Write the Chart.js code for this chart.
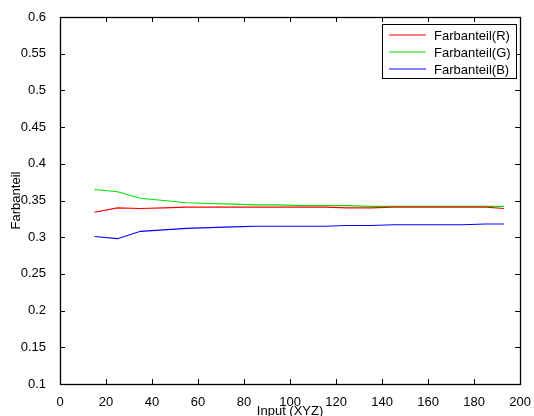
<!DOCTYPE html>
<html>
<head>
<meta charset="utf-8">
<script src="https://cdn.jsdelivr.net/npm/chart.js@4.4.1/dist/chart.umd.min.js"></script>
<style>
  html, body { margin: 0; padding: 0; background: #fff; }
  #wrap { width: 534px; height: 416px; }
</style>
</head>
<body>
<div id="wrap"><canvas id="chart" width="534" height="416"></canvas></div>
<script>
// --- DATEN ---
const inputXYZ = [15, 25, 35, 45, 55, 65, 75, 85, 95, 105, 115, 125, 135, 145, 155, 165, 175, 185, 193];
const anteilR = [0.334, 0.340, 0.339, 0.340, 0.341, 0.341, 0.341, 0.341, 0.341, 0.341, 0.341, 0.340, 0.340, 0.341, 0.341, 0.341, 0.341, 0.341, 0.339];
const anteilG = [0.365, 0.362, 0.353, 0.350, 0.347, 0.346, 0.345, 0.344, 0.344, 0.343, 0.343, 0.343, 0.342, 0.342, 0.342, 0.342, 0.342, 0.342, 0.342];
const anteilB = [0.301, 0.298, 0.308, 0.310, 0.312, 0.313, 0.314, 0.315, 0.315, 0.315, 0.315, 0.316, 0.316, 0.317, 0.317, 0.317, 0.317, 0.318, 0.318];

const seriesLabels = ['Farbanteil(R)', 'Farbanteil(G)', 'Farbanteil(B)'];
const xTicks = [0, 20, 40, 60, 80, 100, 120, 140, 160, 180, 200];
const yTicks = [0.1, 0.15, 0.2, 0.25, 0.3, 0.35, 0.4, 0.45, 0.5, 0.55, 0.6];

const FONT = 'Liberation Sans, Arial, Helvetica, sans-serif';
const colors = ['#ff0000', '#00e000', '#0000ff'];

function toPoints(ys) {
  return inputXYZ.map((x, i) => ({ x: x, y: ys[i] }));
}

// Rahmen + Ticks nach innen (Matlab-Stil) und Legende
const matlabBox = {
  id: 'matlabBox',
  afterDraw(chart) {
    const { ctx, chartArea: a, scales } = chart;
    const len = 5;
    ctx.save();
    ctx.strokeStyle = '#000';
    ctx.lineWidth = 1;
    ctx.beginPath();
    xTicks.forEach(v => {
      const px = Math.round(scales.x.getPixelForValue(v)) + 0.5;
      ctx.moveTo(px, a.bottom); ctx.lineTo(px, a.bottom - len);
      ctx.moveTo(px, a.top); ctx.lineTo(px, a.top + len);
    });
    yTicks.forEach(v => {
      const py = Math.round(scales.y.getPixelForValue(v)) + 0.5;
      ctx.moveTo(a.left, py); ctx.lineTo(a.left + len, py);
      ctx.moveTo(a.right, py); ctx.lineTo(a.right - len, py);
    });
    ctx.stroke();
    ctx.lineWidth = 1.3;
    ctx.strokeRect(Math.round(a.left) + 0.5, Math.round(a.top) + 0.5,
      Math.round(a.right - a.left), Math.round(a.bottom - a.top));

    // Legende
    const bw = 134, bh = 54;
    const bx = Math.round(a.right) - 4 - bw, by = Math.round(a.top) + 7;
    ctx.fillStyle = '#fff';
    ctx.fillRect(bx, by, bw, bh);
    ctx.strokeStyle = '#000';
    ctx.lineWidth = 1;
    ctx.strokeRect(bx + 0.5, by + 0.5, bw, bh);
    ctx.font = '13px ' + FONT;
    ctx.textBaseline = 'middle';
    seriesLabels.forEach((lab, i) => {
      const ry = by + 11 + i * 17;
      ctx.beginPath();
      ctx.strokeStyle = colors[i];
      ctx.lineWidth = 1.2;
      ctx.moveTo(bx + 7, ry);
      ctx.lineTo(bx + 44, ry);
      ctx.stroke();
      ctx.fillStyle = '#000';
      ctx.fillText(lab, bx + 52, ry + 1);
    });
    ctx.restore();
  }
};

const ctx = document.getElementById('chart');
const chart = new Chart(ctx, {
  type: 'scatter',
  data: {
    datasets: [
      { label: seriesLabels[0], data: toPoints(anteilR), borderColor: colors[0] },
      { label: seriesLabels[1], data: toPoints(anteilG), borderColor: colors[1] },
      { label: seriesLabels[2], data: toPoints(anteilB), borderColor: colors[2] }
    ].map(d => Object.assign(d, {
      showLine: true, borderWidth: 1.1, pointRadius: 0, fill: false, tension: 0
    }))
  },
  options: {
    responsive: false,
    animation: false,
    devicePixelRatio: 1,
    layout: { padding: { top: 17, right: 13, left: 0, bottom: 0 } },
    plugins: { legend: { display: false }, tooltip: { enabled: false } },
    scales: {
      x: {
        type: 'linear', min: 0, max: 200,
        afterBuildTicks: s => { s.ticks = xTicks.map(v => ({ value: v })); },
        afterFit: s => { s.height = 32; },
        grid: { display: false },
        border: { display: false },
        ticks: { color: '#000', font: { family: FONT, size: 13 }, padding: 3, maxRotation: 0, autoSkip: false },
        title: { display: true, text: 'Input (XYZ)', color: '#000', font: { family: FONT, size: 13 }, padding: { top: 0, bottom: -3 } }
      },
      y: {
        type: 'linear', min: 0.1, max: 0.6,
        afterBuildTicks: s => { s.ticks = yTicks.map(v => ({ value: v })); },
        afterFit: s => { s.width = 60; },
        grid: { display: false },
        border: { display: false },
        ticks: {
          color: '#000', font: { family: FONT, size: 13 }, padding: 6, autoSkip: false,
          callback: v => String(+v.toFixed(2))
        },
        title: { display: true, text: 'Farbanteil', color: '#000', font: { family: FONT, size: 13 }, padding: { top: 9, bottom: 0 } }
      }
    }
  },
  plugins: [matlabBox]
});
</script>
</body>
</html>
